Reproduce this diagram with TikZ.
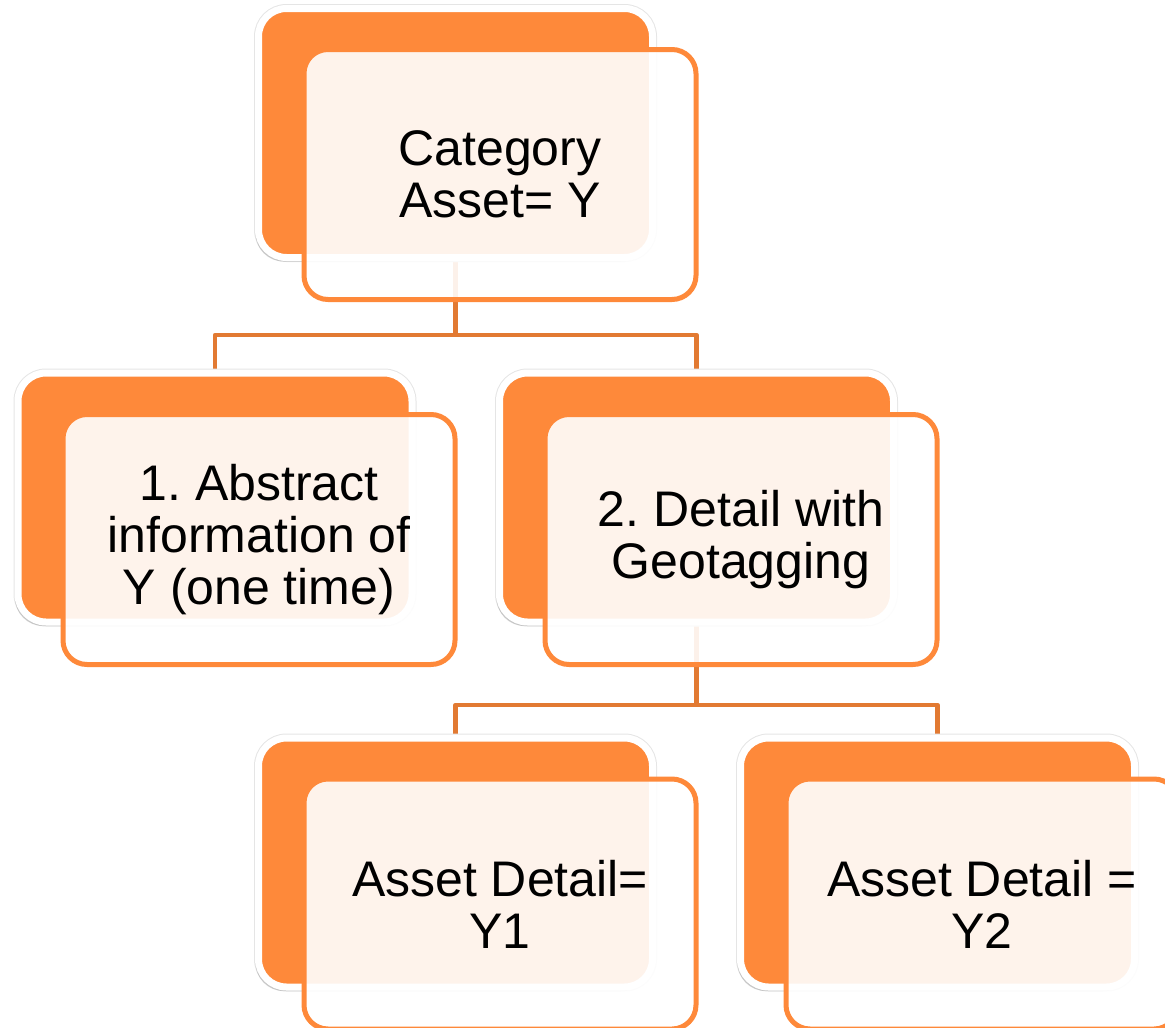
\documentclass[tikz,border=0pt]{standalone}
\usepackage{fontspec}
\setmainfont{Liberation Sans}
\usetikzlibrary{shadows,backgrounds}
\definecolor{boxorange}{RGB}{254,137,58}
\definecolor{lineorange}{RGB}{226,122,50}
\frenchspacing
\begin{document}
\begin{tikzpicture}[x=1pt,y=-1pt,
  backbox/.style={rectangle, rounded corners=28pt, minimum width=394pt, minimum height=249pt, inner sep=0pt,
    fill=boxorange, draw=white, line width=7pt,
    preaction={draw=black!10, line width=9pt},
    drop shadow={shadow xshift=-3pt, shadow yshift=-4pt, opacity=0.25, fill=black!60}},
  frontbox/.style={rectangle, rounded corners=24pt, minimum width=392pt, minimum height=250pt, inner sep=0pt,
    fill=white, fill opacity=0.9, text opacity=1, draw=boxorange, line width=5pt,
    align=center, font=\fontsize{50}{52}\selectfont},
  conn/.style={draw=lineorange, line width=4.5pt, line join=round}]
\useasboundingbox (0,0) rectangle (1165,1028);
\clip (0,0) rectangle (1165,1028);

% back boxes
\node[backbox] (topB) at (455.5,133) {};
\node[backbox] (l2aB) at (215,497.5) {};
\node[backbox] (l2bB) at (696.5,497.5) {};
\node[backbox] (l3aB) at (455.5,862.5) {};
\node[backbox] (l3bB) at (937.5,862.5) {};

% front boxes
\node[frontbox] (topF) at (500,174.5) {Category\\Asset= Y};
\node[frontbox] (l2aF) at (259,539.5) {1. Abstract\\information of\\Y (one time)};
\node[frontbox] (l2bF) at (741,539.5) {2. Detail with\\Geotagging};
\node[frontbox] (l3aF) at (500,904) {Asset Detail=\\Y1};
\node[frontbox] (l3bF) at (982,904) {Asset Detail =\\Y2};

% connectors
\coordinate (bus1) at (455.5,335);
\coordinate (bus2) at (696.5,705);
\begin{scope}[on background layer]
  \draw[conn] (topB.center) -- (bus1);
  \draw[conn] (l2aB.center) |- (bus1) -| (l2bB.center);
  \draw[conn] (l2bB.center) -- (bus2);
  \draw[conn] (l3aB.center) |- (bus2) -| (l3bB.center);
\end{scope}
\end{tikzpicture}
\end{document}
